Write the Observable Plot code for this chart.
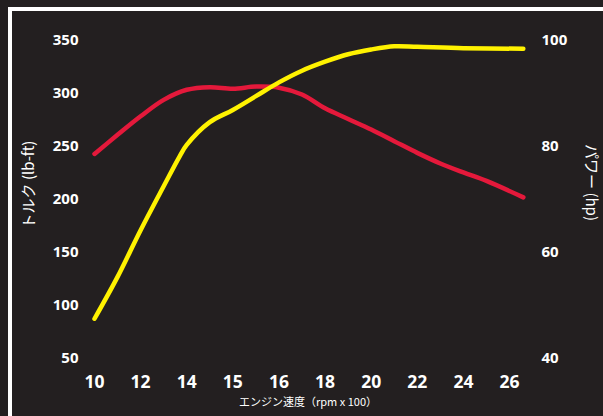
<!DOCTYPE html>
<html><head><meta charset="utf-8">
<script src="https://cdn.jsdelivr.net/npm/d3@7"></script>
<script src="https://cdn.jsdelivr.net/npm/@observablehq/plot@0.6"></script>
<style>
html,body{margin:0;padding:0;background:#231f20;width:603px;height:416px;overflow:hidden;}
#chart{position:absolute;left:0;top:0;}
#frame{position:absolute;left:8px;top:7px;width:700px;height:500px;border-left:4px solid #fff;border-top:4px solid #fff;box-sizing:border-box;pointer-events:none;}
</style></head><body>
<div id="chart"></div><div id="frame"></div>
<script>
// Categories on the x axis (evenly spaced labels)
const rpmLabels = ["10","12","14","15","16","18","20","22","24","26"];
// Torque (lb-ft), left axis; positions in label-index units
const torqueIdx = [0, 0.5, 1, 1.5, 2, 2.5, 3, 3.5, 4, 4.5, 5, 5.5, 6, 6.5, 7, 7.5, 8, 8.5, 9.3];
const torqueVal = [243, 261, 278.5, 294, 303.5, 306, 304.5, 306.5, 305.5, 299, 286, 276, 266, 255, 244, 234, 225.5, 217.5, 202];
// Power (hp), right axis
const powerIdx = [0, 0.5, 1, 1.5, 1.85, 2, 2.5, 3, 3.5, 4, 4.5, 5, 5.5, 6, 6.5, 7, 8, 9.3];
const powerVal = [47.5, 55.4, 64.2, 72.5, 78.2, 80.3, 84.6, 86.9, 89.5, 92.1, 94.3, 96.0, 97.4, 98.3, 98.9, 98.8, 98.55, 98.45];
// Tick labels
const torqueTicks = [50, 100, 150, 200, 250, 300, 350];
const powerTicks = [40, 60, 80, 100];
// Titles
const xTitle = "エンジン速度（rpm x 100）";
const yLeftTitle = "トルク (lb-ft)";
const yRightTitle = "パワー (hp)";

// power -> torque-scale equivalent (40..100 hp maps onto 50..350)
const pToT = p => 50 + (p - 40) * 5;
const tToP = t => 40 + (t - 50) / 5;

const torque = torqueIdx.map((i, k) => ({i, v: torqueVal[k]}));
const power = powerIdx.map((i, k) => ({i, v: pToT(powerVal[k])}));

const cjk = "'Noto Sans CJK JP', 'Noto Sans', sans-serif";

const chart = Plot.plot({
  width: 603, height: 416,
  marginLeft: 94, marginRight: 94, marginTop: 40, marginBottom: 58,
  style: {background: "transparent", color: "#fff", fontFamily: "'Open Sans', sans-serif", overflow: "visible"},
  x: {domain: [0, 9], axis: null},
  y: {domain: [50, 350], axis: null},
  marks: [
    Plot.axisX({ticks: d3.range(rpmLabels.length), tickFormat: i => rpmLabels[i], tickSize: 0, tickPadding: 17, fontSize: 17.5, fontWeight: "bold", label: null}),
    Plot.axisY({ticks: torqueTicks, tickSize: 0, tickPadding: 16, fontSize: 15, fontWeight: "bold", label: null}),
    Plot.axisY({anchor: "right", ticks: powerTicks.map(pToT), tickFormat: t => String(Math.round(tToP(t))), tickSize: 0, tickPadding: 32, textAnchor: "start", fontSize: 15, fontWeight: "bold", label: null}),
    Plot.line(torque, {x: "i", y: "v", stroke: "#e4193b", strokeWidth: 4.5, curve: "catmull-rom"}),
    Plot.line(power, {x: "i", y: "v", stroke: "#fff200", strokeWidth: 4.5, curve: "catmull-rom"}),
    Plot.text([yLeftTitle], {frameAnchor: "left", textAnchor: "middle", dx: -65, dy: -15, rotate: -90, fontSize: 15, fill: "#fff", fontFamily: cjk}),
    Plot.text([yRightTitle], {frameAnchor: "right", textAnchor: "middle", dx: 81, dy: -17, rotate: 90, fontSize: 15, fill: "#fff", fontFamily: cjk}),
    Plot.text([xTitle], {frameAnchor: "bottom", dx: 6, dy: 47, fontSize: 11, fill: "#fff", fontFamily: cjk})
  ]
});
document.getElementById("chart").appendChild(chart);
</script>
</body></html>
